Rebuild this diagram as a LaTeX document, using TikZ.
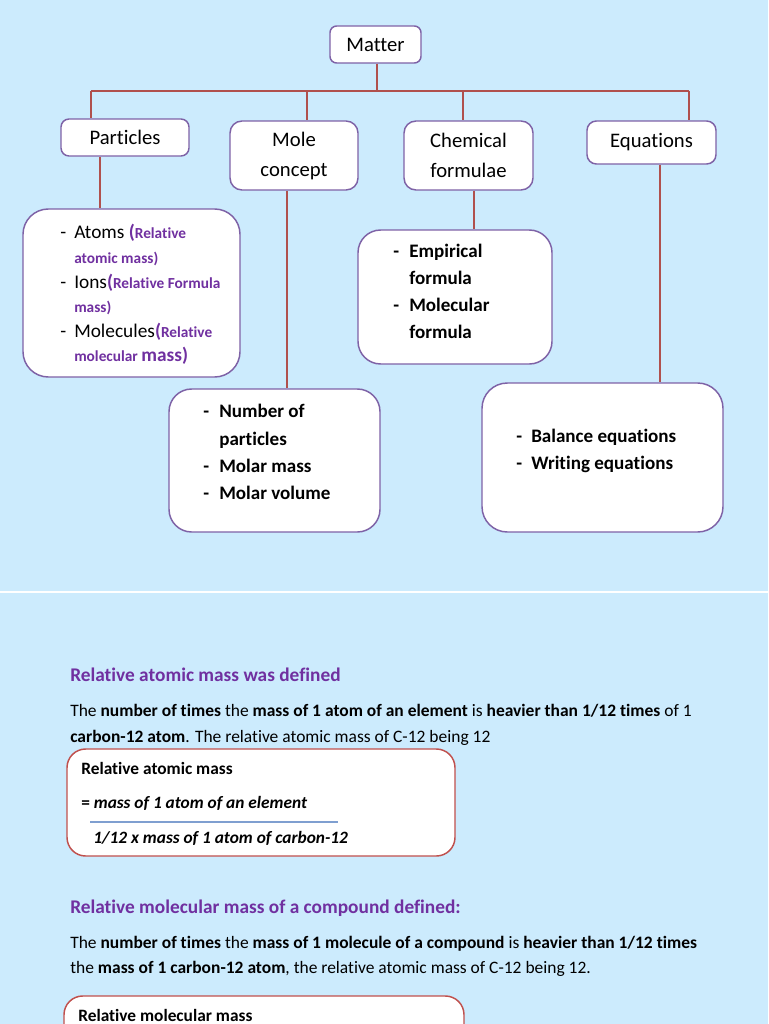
\documentclass[tikz,border=0pt]{standalone}
\usepackage{fontspec}
\setmainfont{Carlito}[Ligatures={NoCommon}]
\definecolor{bg}{HTML}{CCEBFD}
\definecolor{conn}{HTML}{B0504D}
\definecolor{pbord}{HTML}{7E62A6}
\definecolor{rbord}{HTML}{C0504D}
\definecolor{ptext}{HTML}{7030A0}
\definecolor{fline}{HTML}{7F9FD0}
\newcommand\pxu{0.75pt}
\newcommand\bigp[1]{{\color{ptext}\bfseries #1}}
\newcommand\smp[1]{{\color{ptext}\bfseries\fontsize{11.5}{13}\selectfont #1}}
\begin{document}
\begin{tikzpicture}[x=0.75pt,y=-0.75pt,
  box/.style={draw=pbord, line width=1.1pt, fill=white, inner sep=0pt, align=center,
    font=\fontsize{15.5}{22.5}\selectfont},
  rbox/.style={draw=rbord, line width=1.1pt, fill=white, inner sep=0pt},
  conn/.style={draw=conn, line width=1.3pt},
  txt/.style={anchor=base west, inner sep=0pt, font=\fontsize{13.1}{16}\selectfont},
  item/.style={anchor=base west, inner sep=0pt, font=\fontsize{14.3}{17}\selectfont\bfseries},
  itemr/.style={anchor=base west, inner sep=0pt, font=\fontsize{14.5}{17}\selectfont},
  ritem/.style={anchor=base west, inner sep=0pt, font=\fontsize{13}{16}\selectfont\bfseries},
  head/.style={anchor=base west, inner sep=0pt, text=ptext, font=\fontsize{14.5}{17}\selectfont\bfseries},
]
\fill[bg] (0,0) rectangle (768,1024);
\useasboundingbox (0,0) rectangle (768,1024);
\clip (0,0) rectangle (768,1024);

% separator
\draw[white, line width=1.2pt] (0,592) -- (768,592);

% top level boxes
\node[box, rounded corners=5pt, minimum width=91*\pxu, minimum height=37*\pxu] (matter) at (375.5,44.5) {Matter};
\node[box, rounded corners=6pt, minimum width=128*\pxu, minimum height=37*\pxu] (particles) at (125,137.5) {Particles};
\node[box, rounded corners=9pt, minimum width=128*\pxu, minimum height=69*\pxu] (mole) at (294,155.5) {Mole\\concept};
\node[box, rounded corners=9pt, minimum width=129*\pxu, minimum height=69*\pxu] (chem) at (468.5,155.5) {Chemical\\formulae};
\node[box, rounded corners=7pt, minimum width=129*\pxu, minimum height=43*\pxu] (eqs) at (651.5,142.5) {Equations};

% second level boxes
\node[box, rounded corners=19pt, minimum width=217*\pxu, minimum height=168*\pxu] (atoms) at (131.5,293) {};
\node[box, rounded corners=17pt, minimum width=194*\pxu, minimum height=134*\pxu] (empir) at (455,297) {};
\node[box, rounded corners=17pt, minimum width=211*\pxu, minimum height=143*\pxu] (number) at (274.5,460.5) {};
\node[box, rounded corners=19pt, minimum width=241*\pxu, minimum height=149*\pxu] (balance) at (602.5,457.5) {};

% connectors
\coordinate (hl) at (91,91);
\coordinate (hr) at (689,91);
\coordinate (jm) at (377,91);
\coordinate (j2) at (307,91);
\coordinate (j3) at (463,91);
\draw[conn] (jm |- matter.south) -- (jm);
\draw[conn] (hl) -- (hr);
\draw[conn] (hl) -- (hl |- particles.north);
\draw[conn] (j2) -- (j2 |- mole.north);
\draw[conn] (j3) -- (j3 |- chem.north);
\draw[conn] (hr) -- (hr |- eqs.north);

\coordinate (k1) at (100,0);
\coordinate (k2) at (287,0);
\coordinate (k3) at (474,0);
\coordinate (k4) at (660,0);
\draw[conn] (k1 |- particles.south) -- (k1 |- atoms.north);
\draw[conn] (k2 |- mole.south) -- (k2 |- number.north);
\draw[conn] (k3 |- chem.south) -- (k3 |- empir.north);
\draw[conn] (k4 |- eqs.south) -- (k4 |- balance.north);

% atoms box text
\node[itemr] (a1d) at (60,238) {-};
\node[itemr] (a1) at (74,238) {Atoms \bigp{(}\smp{Relative}};
\node[itemr] (a2) at (74,263) {\smp{atomic mass)}};
\node[itemr] (a3d) at (60,288) {-};
\node[itemr] (a3) at (74,288) {Ions\bigp{(}\smp{Relative Formula}};
\node[itemr] (a4) at (74,312) {\smp{mass)}};
\node[itemr] (a5d) at (60,337) {-};
\node[itemr] (a5) at (74,337) {Molecules\bigp{(}\smp{Relative}};
\node[itemr] (a6) at (74,361) {\smp{molecular }\bigp{mass)}};

% empirical box text
\node[item] (e1d) at (393,257) {-};
\node[item] (e1) at (409,257) {Empirical};
\node[item] (e2) at (409,284) {formula};
\node[item] (e3d) at (393,311) {-};
\node[item] (e3) at (409,311) {Molecular};
\node[item] (e4) at (409,338) {formula};

% number box text
\node[item] (n1d) at (203,417) {-};
\node[item] (n1) at (219,417) {Number of};
\node[item] (n2) at (219,445) {particles};
\node[item] (n3d) at (203,472) {-};
\node[item] (n3) at (219,472) {Molar mass};
\node[item] (n4d) at (203,499) {-};
\node[item] (n4) at (219,499) {Molar volume};

% balance box text
\node[item] (b1d) at (516,442) {-};
\node[item] (b1) at (531,442) {Balance equations};
\node[item] (b2d) at (516,469) {-};
\node[item] (b2) at (531,469) {Writing equations};

% lower section
\node[head] (h1) at (70,681) {Relative atomic mass was defined};
\node[txt] (p1) at (70,716) {The \textbf{number of times} the \textbf{mass of 1 atom of an element} is \textbf{heavier than 1/12 times} of 1};
\node[txt] (p2) at (70,742) {\textbf{carbon-12 atom}. The relative atomic mass of C-12 being 12};

\node[rbox, rounded corners=14pt, minimum width=388*\pxu, minimum height=107*\pxu] (ram) at (261,802.5) {};
\node[ritem] (r1) at (81,774) {Relative atomic mass};
\node[ritem] (r2) at (81,808) {= \itshape mass of 1 atom of an element};
\coordinate (fl) at (90,822);
\coordinate (fr) at (338,822);
\draw[fline, line width=0.9pt] (fl) -- (fr);
\node[ritem] (r3) at (93,843) {\itshape 1/12 x mass of 1 atom of carbon-12};

\node[head] (h2) at (70,913) {Relative molecular mass of a compound defined:};
\node[txt] (q1) at (70,948) {The \textbf{number of times} the \textbf{mass of 1 molecule of a compound} is \textbf{heavier than 1/12 times}};
\node[txt] (q2) at (70,973) {the \textbf{mass of 1 carbon-12 atom}, the relative atomic mass of C-12 being 12.};

\node[rbox, rounded corners=14pt, minimum width=400*\pxu, minimum height=100*\pxu] (rmm) at (264,1046) {};
\node[ritem] (m1) at (78,1021) {Relative molecular mass};
\end{tikzpicture}
\end{document}
